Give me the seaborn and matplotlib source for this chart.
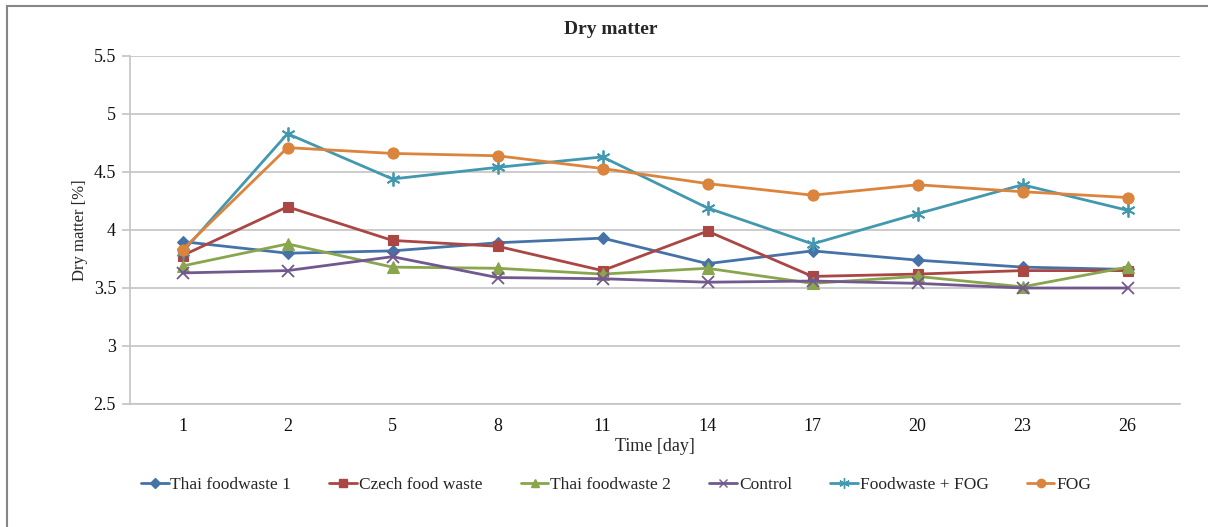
import matplotlib
matplotlib.use("Agg")
import matplotlib.pyplot as plt
from matplotlib.patches import Rectangle
from matplotlib.lines import Line2D
import seaborn as sns
import pandas as pd

days = ["1", "2", "5", "8", "11", "14", "17", "20", "23", "26"]

thai_foodwaste_1 = [3.90, 3.80, 3.82, 3.89, 3.93, 3.71, 3.82, 3.74, 3.68, 3.66]
czech_food_waste = [3.78, 4.20, 3.91, 3.86, 3.65, 3.99, 3.60, 3.62, 3.65, 3.65]
thai_foodwaste_2 = [3.69, 3.88, 3.68, 3.67, 3.62, 3.67, 3.54, 3.60, 3.51, 3.68]
control = [3.63, 3.65, 3.77, 3.59, 3.58, 3.55, 3.56, 3.54, 3.50, 3.50]
foodwaste_fog = [3.81, 4.83, 4.44, 4.54, 4.63, 4.19, 3.88, 4.14, 4.39, 4.17]
fog = [3.83, 4.71, 4.66, 4.64, 4.53, 4.40, 4.30, 4.39, 4.33, 4.28]

series_names = ["Thai foodwaste 1", "Czech food waste", "Thai foodwaste 2",
                "Control", "Foodwaste + FOG", "FOG"]
series_values = [thai_foodwaste_1, czech_food_waste, thai_foodwaste_2,
                 control, foodwaste_fog, fog]
colors = ["#4572A7", "#AA4643", "#89A54E", "#71588F", "#4198AF", "#DB843D"]
markers = ["D", "s", "^", "x", (6, 2, 0), "o"]
marker_sizes = [6.5, 7.5, 8, 8, 10, 8]

rows = []
for name, vals in zip(series_names, series_values):
    for i, v in enumerate(vals):
        rows.append({"series": name, "pos": i, "day": days[i], "value": v})
df = pd.DataFrame(rows)

sns.set_theme(style="white")
plt.rcParams["font.family"] = ["Liberation Serif", "DejaVu Serif"]

fig = plt.figure(figsize=(12.08, 5.27), dpi=100)
ax = fig.add_axes([130 / 1208, 1 - 404 / 527, 1050 / 1208, 348 / 527])

for name, col, mk, ms in zip(series_names, colors, markers, marker_sizes):
    sub = df[df["series"] == name]
    line_art = mk == "x" or isinstance(mk, tuple)
    sns.lineplot(data=sub, x="pos", y="value", ax=ax, color=col, marker=mk,
                 markersize=ms, markeredgecolor=col, markerfacecolor=col,
                 markeredgewidth=1.3 if line_art else 0.8,
                 linewidth=2.0, legend=False, zorder=3)

ax.set_xlim(-0.5, len(days) - 0.5)
ax.set_ylim(2.5, 5.5)
ax.set_xticks(range(len(days)))
ax.set_xticklabels(days)
ax.set_yticks([2.5, 3, 3.5, 4, 4.5, 5, 5.5])
ax.set_yticklabels(["2.5", "3", "3.5", "4", "4.5", "5", "5.5"])
ax.yaxis.grid(True, color="#C4C4C4", linewidth=1.2)
ax.xaxis.grid(False)
ax.set_axisbelow(True)

for side in ("top", "right"):
    ax.spines[side].set_visible(False)
for side in ("left", "bottom"):
    ax.spines[side].set_color("#C4C4C4")
    ax.spines[side].set_linewidth(1.2)

ax.tick_params(axis="y", length=6, width=1.2, color="#C4C4C4", pad=4,
               labelsize=13, left=True, labelcolor="#111111")
ax.tick_params(axis="x", length=0, pad=10, labelsize=13, labelcolor="#111111")

ax.set_xlabel("Time [day]", fontsize=13, labelpad=2)
ax.set_ylabel("Dry matter [%]", fontsize=12, labelpad=4)

fig.text(611 / 1208, 1 - 29 / 527, "Dry matter", ha="center", va="center",
         fontsize=14, fontweight="bold")

handles = [Line2D([0], [0], color=c, marker=m, markersize=s * 0.75,
                  markeredgecolor=c, markerfacecolor=c, linewidth=2.0)
           for c, m, s in zip(colors, markers, marker_sizes)]
fig.legend(handles, series_names, loc="center", bbox_to_anchor=(616 / 1208, 1 - 485 / 527),
           ncol=6, frameon=False, fontsize=12.5, handlelength=1.6,
           handletextpad=0.1, columnspacing=2.2)

fig.patches.append(Rectangle((7 / 1208, -0.2), 1.2, 0.2 + 1 - 6 / 527,
                             transform=fig.transFigure, fill=False,
                             edgecolor="#868686", linewidth=1.5))

fig.savefig("out.png", dpi=100)
